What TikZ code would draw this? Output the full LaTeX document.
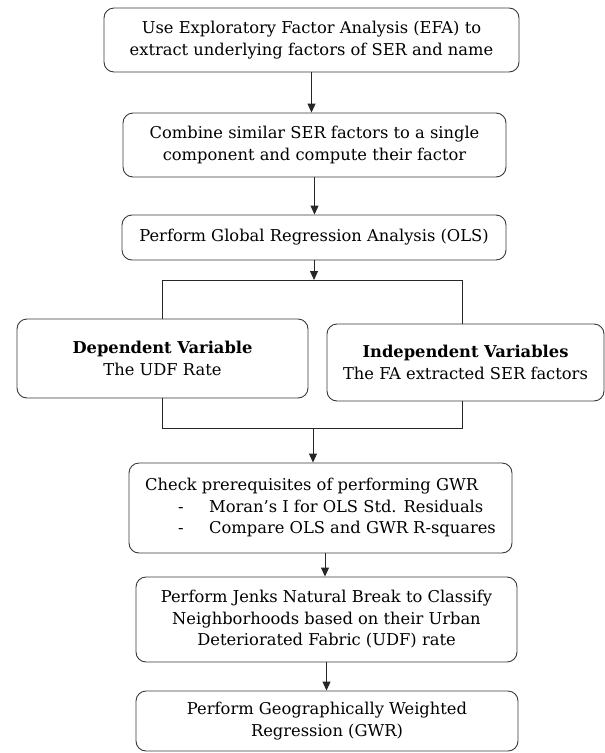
\documentclass[tikz,border=0pt]{standalone}
\usepackage{fontspec}
\setmainfont{DejaVu Serif}
\usetikzlibrary{arrows.meta}
\begin{document}
\begin{tikzpicture}[x=1pt,y=-1pt,
  box/.style={draw=black!78, line width=0.9pt, rounded corners=10pt, align=center, inner sep=0pt, font=\fontsize{16.3}{21.5}\selectfont, text=black},
  conn/.style={draw=black!85, line width=0.9pt},
  arr/.style={conn, -{Triangle[length=9pt,width=8pt]}}]
\useasboundingbox (0,0) rectangle (605,753);
\node[box, minimum width=415pt, minimum height=64pt] (b1) at (311.5,40) {Use Exploratory Factor Analysis (EFA) to\\extract underlying factors of SER and name};
\node[box, minimum width=383pt, minimum height=64pt] (b2) at (314.5,145) {Combine similar SER factors to a single\\component and compute their factor};
\node[box, minimum width=384pt, minimum height=45pt] (b3) at (314,237.5) {Perform Global Regression Analysis (OLS)};
\node[box, minimum width=291pt, minimum height=79pt] (b4) at (162.5,358.5) {\textbf{Dependent Variable}\\The UDF Rate};
\node[box, minimum width=277pt, minimum height=77pt] (b5) at (465.5,362.5) {\textbf{Independent Variables}\\The FA extracted SER factors};
\node[box, minimum width=383pt, minimum height=90pt] (b6) at (320.5,508) {\begin{tabular}{@{}l@{}}Check prerequisites of performing GWR\\\makebox[64pt][l]{\hspace{33pt}-}Moran’s I for OLS Std. Residuals\\\makebox[64pt][l]{\hspace{33pt}-}Compare OLS and GWR R-squares\end{tabular}};
\node[box, minimum width=381pt, minimum height=85pt] (b7) at (326.5,619.5) {Perform Jenks Natural Break to Classify\\Neighborhoods based on their Urban\\Deteriorated Fabric (UDF) rate};
\node[box, minimum width=382pt, minimum height=60pt] (b8) at (327,721) {Perform Geographically Weighted\\Regression (GWR)};
\coordinate (sp) at (314,280);
\coordinate (spL) at (162,280);
\coordinate (spR) at (462,280);
\coordinate (jn) at (313,428);
\coordinate (jnL) at (162,428);
\coordinate (jnR) at (462,428);
\draw[arr] (b1.south) -- (b1.south |- b2.north);
\draw[arr] (b2.south) -- (b2.south |- b3.north);
\draw[arr] (b3.south) -- (b3.south |- sp);
\draw[conn] (b4.north -| spL) -- (spL) -- (spR) -- (b5.north -| spR);
\draw[conn] (b4.south -| jnL) -- (jnL) -- (jnR) -- (b5.south -| jnR);
\draw[arr] (jn) -- (jn |- b6.north);
\draw[arr] ([xshift=4.5pt]b6.south) -- ([xshift=4.5pt]b6.south |- b7.north);
\draw[arr] (b7.south) -- (b7.south |- b8.north);
\end{tikzpicture}
\end{document}
